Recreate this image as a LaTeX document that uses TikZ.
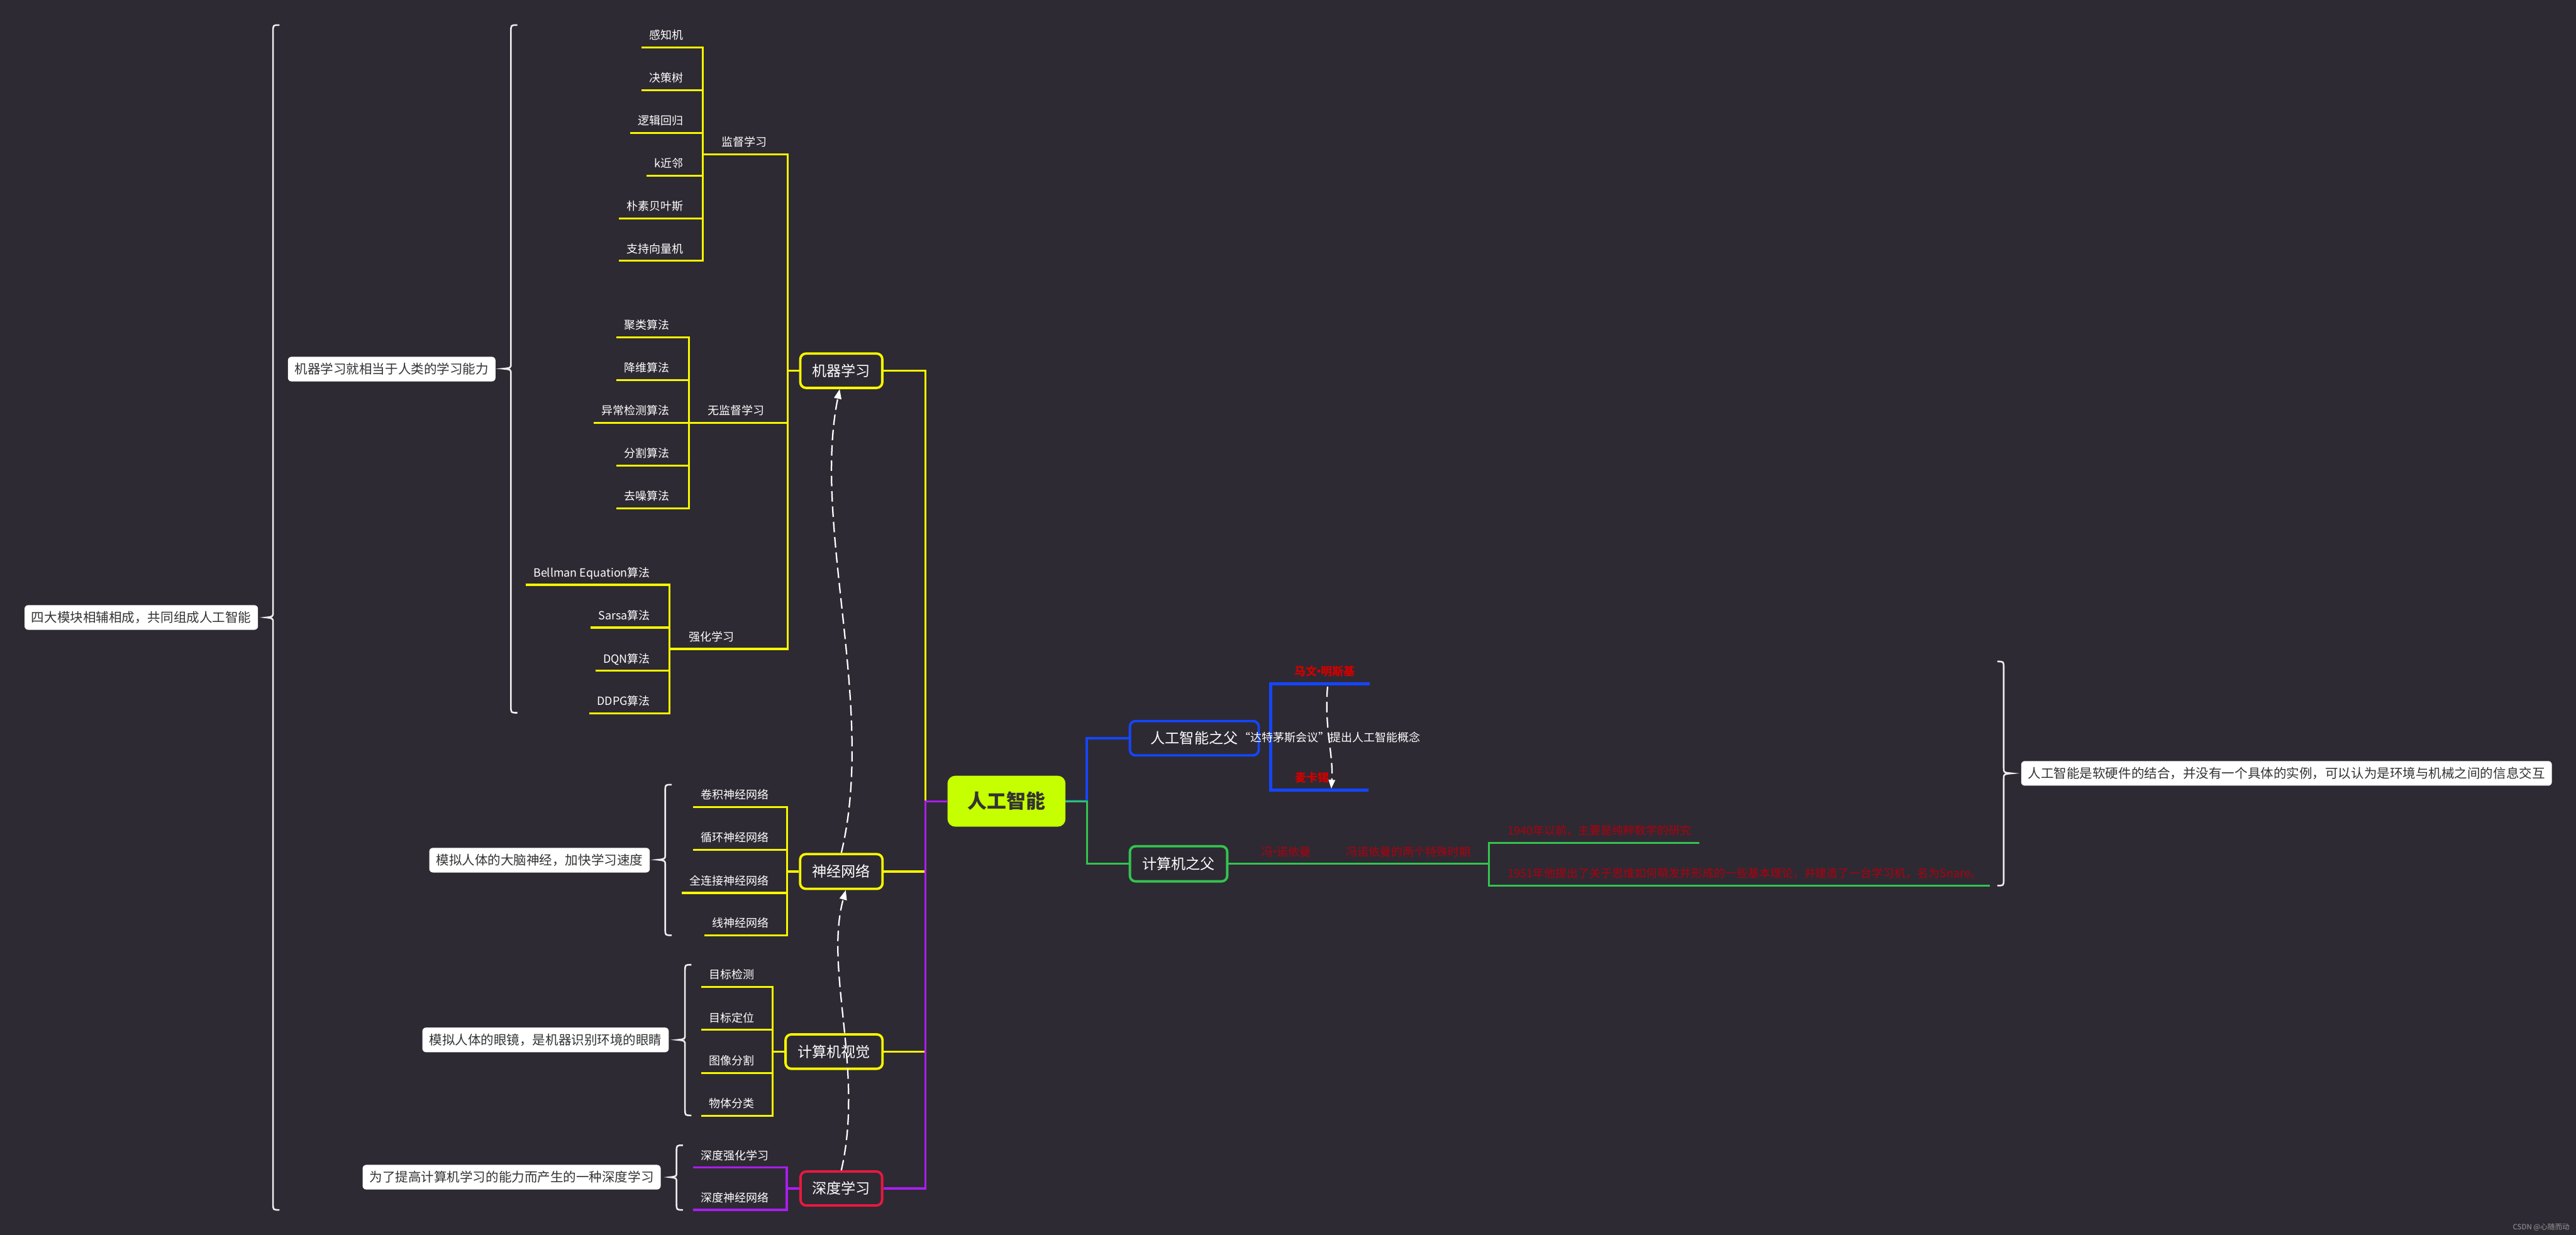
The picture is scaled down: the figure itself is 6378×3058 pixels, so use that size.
\documentclass[tikz,border=0pt]{standalone}
\usepackage{fontspec}
\setmainfont{Noto Sans CJK SC}
\usetikzlibrary{arrows.meta}
\definecolor{bg}{HTML}{2E2A33}
\definecolor{yel}{HTML}{F7F700}
\definecolor{pur}{HTML}{A91EF0}
\definecolor{blu}{HTML}{1446FF}
\definecolor{grn}{HTML}{33C44F}
\definecolor{redb}{HTML}{E8193F}
\definecolor{lime}{HTML}{C5FF00}
\definecolor{redt}{HTML}{D00000}
\definecolor{redd}{HTML}{B0000F}
\definecolor{notetext}{HTML}{333333}
\definecolor{wm}{HTML}{9A9A9A}
\definecolor{brw}{HTML}{EEEEEE}
\newcommand{\fs}[1]{\fontsize{#1}{#1}\selectfont}
\newcommand{\mdot}{\kern-9pt·\kern-9pt}
\newcommand{\brc}[6]{\draw[brace] (#1#6,#2) .. controls (#1,#2) .. (#1,#2+16) -- (#1,#4-13) .. controls (#1,#4-2) .. (#5,#4) .. controls (#1,#4+2) .. (#1,#4+13) -- (#1,#3-16) .. controls (#1,#3) .. (#1#6,#3);}
\begin{document}
\begin{tikzpicture}[x=1pt,y=-1pt,
  leaf/.style={font=\fs{28}, text=white, inner xsep=19pt, inner ysep=16pt, text height=24.6pt, text depth=3.4pt, anchor=south east},
  lab/.style={leaf, inner xsep=47pt, anchor=south west},
  box/.style={draw, line width=6pt, rounded corners=14pt, fill=bg, text=white, font=\fs{36}, text height=31.7pt, text depth=4.3pt, inner sep=0pt},
  note/.style={fill=white, rounded corners=9pt, text=notetext, font=\fs{32}, text height=28.2pt, text depth=3.8pt, inner xsep=17pt, inner ysep=14.5pt, anchor=east},
  redname/.style={font=\fs{28}\bfseries, text=redt, inner sep=0pt},
  redtxt/.style={font=\fs{28}, text=redd, inner sep=0pt},
  wtxt/.style={font=\fs{28}, text=white, inner sep=0pt},
  yl/.style={draw=yel, line width=5pt},
  pu/.style={draw=pur, line width=5pt},
  bl/.style={draw=blu, line width=7pt},
  gr/.style={draw=grn, line width=5pt},
  brace/.style={draw=brw, line width=4pt},
  dsh/.style={draw=white, line width=3.5pt, dash pattern=on 26pt off 12pt, -{Triangle[length=24pt,width=18pt]}}
]
\fill[bg] (0,0) rectangle (6378,3058);
\useasboundingbox (0,0) rectangle (6378,3058);

% ---- main nodes
\node[box, draw=lime, fill=lime, rounded corners=16pt, minimum width=286pt, minimum height=120pt, text=notetext, font=\fs{48}\bfseries, text height=42.2pt, text depth=5.8pt] (R) at (2492,1984) {人工智能};
\node[box, draw=yel, minimum width=203pt, minimum height=85pt] (A) at (2083,918) {机器学习};
\node[box, draw=yel, minimum width=204pt, minimum height=86pt] (B) at (2083,2158) {神经网络};
\node[box, draw=yel, minimum width=240pt, minimum height=85pt] (C) at (2065,2604) {计算机视觉};
\node[box, draw=redb, minimum width=202pt, minimum height=84pt] (D) at (2083,2943) {深度学习};
\node[box, draw=blu, minimum width=319pt, minimum height=85pt] (P1) at (2957,1828) {人工智能之父};
\node[box, draw=grn, minimum width=241pt, minimum height=87pt] (P2) at (2918,2139) {计算机之父};

% ---- root connectors
\draw[yl] (R.west) -- ++(-55,0) coordinate (rl) |- (A.east);
\draw[yl] (rl) |- (B.east);
\draw[yl] (rl) |- (C.east);
\draw[pu] (R.west) -- (rl) |- (D.east);
\draw[bl] (R.east) -- ++(53,0) coordinate (rr) |- (P1.west);
\draw[gr] (R.east) -- (rr) |- (P2.west);

% ---- machine learning
\node[lab] (L1) at (1740,382) {监督学习};
\node[lab] (L2) at (1706,1047) {无监督学习};
\node[lab] (L3) at (1658,1607) {强化学习};
\draw[yl] (A.west) -- ++(-28,0) coordinate (aj);
\foreach \n in {L1,L2,L3} \draw[yl] (\n.south west) -| (aj);
\foreach \t/\y [count=\i] in {感知机/117,决策树/223,逻辑回归/329,k近邻/435,朴素贝叶斯/541,支持向量机/646}{
  \node[leaf] (s\i) at (1711,\y) {\t};
  \draw[yl] (s\i.south west) -| (L1.south west);}
\foreach \t/\y [count=\i] in {聚类算法/835,降维算法/941,异常检测算法/1047,分割算法/1153,去噪算法/1259}{
  \node[leaf] (u\i) at (1677,\y) {\t};
  \draw[yl] (u\i.south west) -| (L2.south west);}
\foreach \t/\y [count=\i] in {Bellman Equation算法/1448,Sarsa算法/1554,DQN算法/1661,DDPG算法/1766}{
  \node[leaf] (r\i) at (1629,\y) {\t};
  \draw[yl] (r\i.south west) -| (L3.south west);}

% ---- neural networks
\draw[yl] (B.west) -- ++(-29,0) coordinate (bj);
\foreach \t/\y [count=\i] in {卷积神经网络/1998,循环神经网络/2104,全连接神经网络/2211,线神经网络/2316}{
  \node[leaf] (b\i) at (1923,\y) {\t};
  \draw[yl] (b\i.south west) -| (bj);}

% ---- computer vision
\draw[yl] (C.west) -- ++(-29,0) coordinate (cj);
\foreach \t/\y [count=\i] in {目标检测/2444,目标定位/2550,图像分割/2657,物体分类/2763}{
  \node[leaf] (c\i) at (1887,\y) {\t};
  \draw[yl] (c\i.south west) -| (cj);}

% ---- deep learning
\draw[pu] (D.west) -- ++(-31,0) coordinate (dj);
\foreach \t/\y [count=\i] in {深度强化学习/2891,深度神经网络/2996}{
  \node[leaf] (d\i) at (1922,\y) {\t};
  \draw[pu] (d\i.south west) -| (dj);}

% ---- notes and braces
\node[note] (N0) at (639,1529) {四大模块相辅相成，共同组成人工智能};
\node[note] (N1) at (1227,914) {机器学习就相当于人类的学习能力};
\node[note] (N2) at (1609,2130) {模拟人体的大脑神经，加快学习速度};
\node[note] (N3) at (1656,2575) {模拟人体的眼镜，是机器识别环境的眼睛};
\node[note] (N5) at (1636,2915) {为了提高计算机学习的能力而产生的一种深度学习};
\node[note, anchor=west] (N4) at (5004,1915) {人工智能是软硬件的结合，并没有一个具体的实例，可以认为是环境与机械之间的信息交互};
\brc{676}{62}{2996}{1529}{659}{+16}
\brc{1265}{62}{1765}{913}{1246}{+16}
\brc{1647}{1943}{2316}{2129}{1629}{+16}
\brc{1696}{2389}{2762}{2575}{1678}{+16}
\brc{1675}{2836}{2996}{2915}{1659}{+16}
\brc{4961}{1638}{2193}{1915}{4981}{-16}

% ---- father of AI
\draw[bl, line width=8pt] (3392,1694) -- (3146,1694) -- (3146,1956) -- (3388,1956);
\node[redname] (M1) at (3280,1662) {马文\mdot 明斯基};
\node[redname] (M2) at (3249,1926) {麦卡锡};
\draw[dsh, -{Triangle[length=22pt,width=16pt]}] (3287,1700) .. controls (3278,1800) and (3302,1870) .. (3296,1953);
\node[wtxt] (T1) at (3293,1826) {“达特茅斯会议”提出人工智能概念};

% ---- father of computers
\draw[gr] (P2.east) -- (3686,2139) coordinate (gj);
\draw[gr] (gj) -- (3686,2087) -- (4208,2087);
\draw[gr] (gj) -- (3686,2193) -- (4927,2193);
\node[redtxt] (F1) at (3185,2110) {冯\mdot 诺依曼};
\node[redtxt] (F2) at (3487,2110) {冯诺依曼的两个特殊时期};
\node[redtxt, anchor=west] (G1) at (3733,2057) {1940年以前，主要是纯粹数学的研究};
\node[redtxt, anchor=west] (G2) at (3733,2163) {1951年他提出了关于思维如何萌发并形成的一些基本理论，并建造了一台学习机，名为Snare。};

% ---- dashed relations
\draw[dsh] (D.north) .. controls (2140,2650) and (2040,2400) .. ([xshift=11pt]B.south);
\draw[dsh] (B.north) .. controls (2170,1750) and (2010,1300) .. ([xshift=-4pt]A.south);

% ---- watermark
\node[font=\fs{18}, text=wm, inner sep=0pt, anchor=east] (W) at (6362,3039) {CSDN @心随而动};
\end{tikzpicture}
\end{document}
